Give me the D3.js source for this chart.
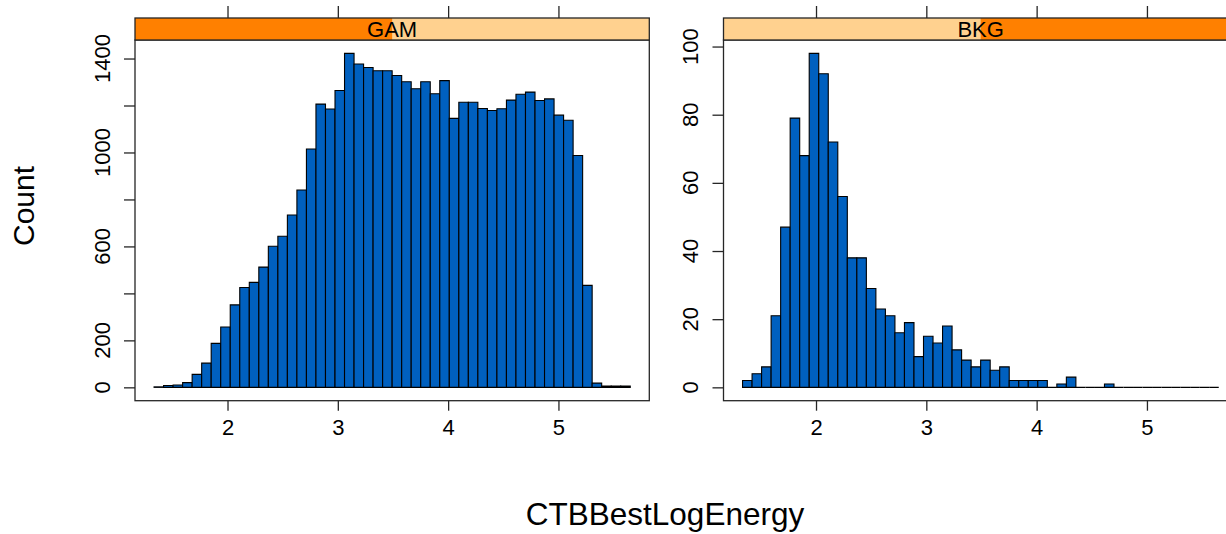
<!DOCTYPE html>
<html>
<head>
<meta charset="utf-8">
<script src="https://cdn.jsdelivr.net/npm/d3@7"></script>
<style>
  html, body { margin: 0; padding: 0; background: #ffffff; }
  svg { display: block; }
  text { font-family: "Liberation Sans", Arial, Helvetica, sans-serif; fill: #000; }
</style>
</head>
<body>
<svg id="chart" width="1226" height="534"></svg>
<script>
// Panel names (factor levels, in strip order)
const panelNames = ["GAM", "BKG"];

// Shared histogram breaks: 50 equal-width bins over this range
const binRange = [1.334, 5.651];
const binCount = 50;

// Counts per bin, GAM panel
const countsGAM = [
  2, 8, 10, 20, 55, 103, 187, 257, 351, 425,
  447, 512, 601, 643, 734, 840, 1015, 1206, 1185, 1264,
  1422, 1377, 1362, 1348, 1348, 1328, 1301, 1271, 1301, 1250,
  1306, 1145, 1214, 1214, 1187, 1179, 1186, 1223, 1248, 1257,
  1221, 1228, 1159, 1137, 987, 434, 18, 5, 5, 5
];

// Counts per bin, BKG panel
const countsBKG = [
  2, 4, 6, 21, 47, 79, 68, 98, 92, 72,
  56, 38, 38, 29, 23, 21, 16, 19, 9, 15,
  13, 18, 11, 8, 6, 8, 5, 6, 2, 2,
  2, 2, 0, 1, 3, 0, 0, 0, 1, 0,
  0, 0, 0, 0, 0, 0, 0, 0, 0, 0
];

// Axis ticks and labels
const xTicks = [2, 3, 4, 5];
const yTicksGAM = [0, 200, 400, 600, 800, 1000, 1200, 1400];
const yLabelsGAM = [0, 200, 600, 1000, 1400];
const yTicksBKG = [0, 20, 40, 60, 80, 100];
const yLabelsBKG = [0, 20, 40, 60, 80, 100];

const xTitle = "CTBBestLogEnergy";
const yTitle = "Count";

// ---- layout ----
const svg = d3.select("#chart");
const panelTop = 40, panelBottom = 400.7, stripTop = 18;
const panelXs = [[135, 649.3], [723.5, 1237.8]];
const colBar = "#0060BF";
const colStripDark = "#FF8000";
const colStripLight = "#FFD18F";
const colLine = "#262626";

const edges = d3.range(binCount + 1).map(i => binRange[0] + i * (binRange[1] - binRange[0]) / binCount);
const pad = 0.04 * (binRange[1] - binRange[0]);
const xDomain = [binRange[0] - pad, binRange[1] + pad];

const panels = [
  { name: panelNames[0], counts: countsGAM, yTicks: yTicksGAM, yLabels: yLabelsGAM },
  { name: panelNames[1], counts: countsBKG, yTicks: yTicksBKG, yLabels: yLabelsBKG }
];

panels.forEach((p, idx) => {
  const [x0, x1] = panelXs[idx];
  const x = d3.scaleLinear().domain(xDomain).range([x0, x1]);
  const maxC = d3.max(p.counts);
  const y = d3.scaleLinear().domain([-0.04 * maxC, 1.04 * maxC]).range([panelBottom, panelTop]);

  const g = svg.append("g");

  // histogram bars as closed paths, so empty bins still show as a flat line
  g.selectAll("path.bar")
    .data(p.counts.map((c, i) => ({ c, a: edges[i], b: edges[i + 1] })))
    .enter().append("path")
    .attr("class", "bar")
    .attr("d", d => {
      const xa = x(d.a), xb = x(d.b), y0 = y(0), yc = y(d.c);
      return `M${xa},${y0}L${xa},${yc}L${xb},${yc}L${xb},${y0}Z`;
    })
    .attr("fill", colBar)
    .attr("stroke", "#000")
    .attr("stroke-width", 1.1);

  // panel frame
  g.append("rect")
    .attr("x", x0).attr("y", panelTop)
    .attr("width", x1 - x0).attr("height", panelBottom - panelTop)
    .attr("fill", "none").attr("stroke", colLine).attr("stroke-width", 1.3);

  // strip: level indicator (first or second half darkened)
  const mid = (x0 + x1) / 2;
  g.append("rect")
    .attr("x", x0).attr("y", stripTop).attr("width", x1 - x0).attr("height", panelTop - stripTop)
    .attr("fill", colStripLight);
  g.append("rect")
    .attr("x", idx === 0 ? x0 : mid).attr("y", stripTop)
    .attr("width", (x1 - x0) / 2).attr("height", panelTop - stripTop)
    .attr("fill", colStripDark);
  g.append("rect")
    .attr("x", x0).attr("y", stripTop).attr("width", x1 - x0).attr("height", panelTop - stripTop)
    .attr("fill", "none").attr("stroke", colLine).attr("stroke-width", 1.3);
  g.append("text")
    .attr("x", mid).attr("y", panelTop - 3)
    .attr("text-anchor", "middle")
    .attr("font-size", 22)
    .text(p.name);

  // bottom axis
  const bottom = g.append("g").attr("transform", `translate(0,${panelBottom})`)
    .call(d3.axisBottom(x).tickValues(xTicks).tickSize(10).tickPadding(9).tickFormat(d3.format("d")));
  bottom.select(".domain").remove();
  bottom.selectAll("line").attr("stroke", colLine).attr("stroke-width", 1.3);
  bottom.selectAll("text").attr("font-size", 22).attr("font-family", "Liberation Sans, Arial, sans-serif");

  // top ticks (above the strip)
  const top = g.append("g").attr("transform", `translate(0,${stripTop})`)
    .call(d3.axisTop(x).tickValues(xTicks).tickSize(12).tickFormat(""));
  top.select(".domain").remove();
  top.selectAll("line").attr("stroke", colLine).attr("stroke-width", 1.3);

  // left axis: ticks plus rotated labels
  const left = g.append("g").attr("transform", `translate(${x0},0)`)
    .call(d3.axisLeft(y).tickValues(p.yTicks).tickSize(11).tickFormat(""));
  left.select(".domain").remove();
  left.selectAll("line").attr("stroke", colLine).attr("stroke-width", 1.3);
  g.selectAll("text.ylab")
    .data(p.yLabels)
    .enter().append("text")
    .attr("class", "ylab")
    .attr("transform", d => `translate(${x0 - 25.5},${y(d)}) rotate(-90)`)
    .attr("text-anchor", "middle")
    .attr("font-size", 22)
    .text(d => d);
});

// axis titles
svg.append("text")
  .attr("x", 665).attr("y", 525)
  .attr("text-anchor", "middle")
  .attr("font-size", 31.5)
  .text(xTitle);

svg.append("text")
  .attr("transform", "translate(34,206) rotate(-90)")
  .attr("text-anchor", "middle")
  .attr("font-size", 30)
  .text(yTitle);
</script>
</body>
</html>
